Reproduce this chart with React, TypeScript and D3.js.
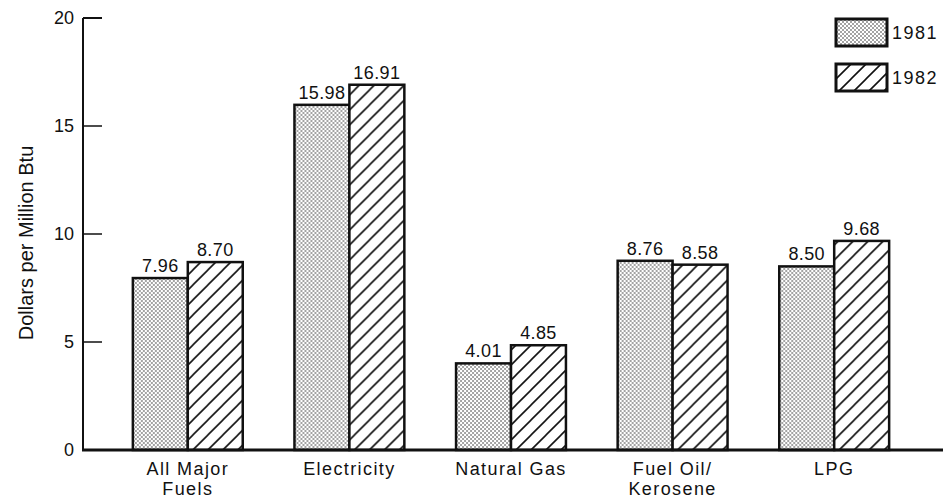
import React, { useRef, useEffect } from 'react';
import * as d3 from 'd3';

const categories = ['All Major Fuels', 'Electricity', 'Natural Gas', 'Fuel Oil/ Kerosene', 'LPG'];
const categoryLines = [['All Major', 'Fuels'], ['Electricity'], ['Natural Gas'], ['Fuel Oil/', 'Kerosene'], ['LPG']];
const series = ['1981', '1982'];
const values1981 = [7.96, 15.98, 4.01, 8.76, 8.5];
const values1982 = [8.7, 16.91, 4.85, 8.58, 9.68];
const yTicks = [0, 5, 10, 15, 20];

const width = 950;
const height = 501;
const font = '"Liberation Sans", Arial, Helvetica, sans-serif';

const App: React.FC = () => {
  const svgRef = useRef<SVGSVGElement | null>(null);

  useEffect(() => {
    const svg = d3.select(svgRef.current);
    svg.selectAll('*').remove();

    const defs = svg.append('defs');
    // dotted screen for 1981
    const dots = defs.append('pattern')
      .attr('id', 'dots')
      .attr('patternUnits', 'userSpaceOnUse')
      .attr('width', 4)
      .attr('height', 4);
    dots.append('rect').attr('width', 4).attr('height', 4).attr('fill', '#fff');
    dots.append('circle').attr('cx', 1).attr('cy', 1).attr('r', 0.75).attr('fill', '#1a1a1a');
    dots.append('circle').attr('cx', 3).attr('cy', 3).attr('r', 0.75).attr('fill', '#1a1a1a');

    // diagonal hatching for 1982
    const hatch = defs.append('pattern')
      .attr('id', 'hatch')
      .attr('patternUnits', 'userSpaceOnUse')
      .attr('width', 15)
      .attr('height', 15);
    hatch.append('rect').attr('width', 15).attr('height', 15).attr('fill', '#fff');
    hatch.append('path')
      .attr('d', 'M-4,4 L4,-4 M0,15 L15,0 M11,19 L19,11')
      .attr('stroke', '#111')
      .attr('stroke-width', 1.6);

    const fills = ['url(#dots)', 'url(#hatch)'];

    const x0 = d3.scaleBand<string>()
      .domain(categories)
      .range([107, 915])
      .paddingInner(0.32)
      .paddingOuter(0.16);

    const x1 = d3.scaleBand<string>()
      .domain(series)
      .range([0, x0.bandwidth()]);

    const y = d3.scaleLinear().domain([0, 20]).range([450, 18]);

    const axisX = 83;

    // y axis
    const ax = svg.append('g');
    ax.append('line')
      .attr('x1', axisX).attr('x2', axisX)
      .attr('y1', y(20)).attr('y2', y(0))
      .attr('stroke', '#111').attr('stroke-width', 2);
    ax.selectAll('line.tick')
      .data(yTicks.filter(d => d > 0))
      .enter()
      .append('line')
      .attr('class', 'tick')
      .attr('x1', axisX).attr('x2', 102)
      .attr('y1', d => y(d)).attr('y2', d => y(d))
      .attr('stroke', '#111')
      .attr('stroke-width', d => (d === 20 ? 2 : 1.5));
    ax.selectAll('text')
      .data(yTicks)
      .enter()
      .append('text')
      .attr('x', 74)
      .attr('y', d => y(d))
      .attr('dy', '0.36em')
      .attr('text-anchor', 'end')
      .style('font-family', font)
      .style('font-size', '18px')
      .attr('fill', '#111')
      .text(d => d);

    svg.append('text')
      .attr('transform', `translate(33,243) rotate(-90)`)
      .attr('text-anchor', 'middle')
      .style('font-family', font)
      .style('font-size', '20px')
      .attr('fill', '#111')
      .text('Dollars per Million Btu');

    // bars
    const data = categories.map((c, i) => ({ cat: c, vals: [values1981[i], values1982[i]] }));
    const groups = svg.selectAll('g.group')
      .data(data)
      .enter()
      .append('g')
      .attr('class', 'group')
      .attr('transform', d => `translate(${x0(d.cat)},0)`);

    groups.selectAll('rect')
      .data(d => d.vals.map((v, j) => ({ key: series[j], v, j })))
      .enter()
      .append('rect')
      .attr('x', d => x1(d.key)!)
      .attr('y', d => y(d.v))
      .attr('width', x1.bandwidth())
      .attr('height', d => y(0) - y(d.v))
      .attr('fill', d => fills[d.j])
      .attr('stroke', '#111')
      .attr('stroke-width', 2.5);

    groups.selectAll('text.val')
      .data(d => d.vals.map((v, j) => ({ key: series[j], v })))
      .enter()
      .append('text')
      .attr('class', 'val')
      .attr('x', d => x1(d.key)! + x1.bandwidth() / 2)
      .attr('y', d => y(d.v) - 6)
      .attr('text-anchor', 'middle')
      .style('font-family', font)
      .style('font-size', '18px')
      .style('letter-spacing', '0.4px')
      .attr('fill', '#111')
      .text(d => d.v.toFixed(2));

    // baseline
    svg.append('line')
      .attr('x1', axisX - 1).attr('x2', 943)
      .attr('y1', y(0)).attr('y2', y(0))
      .attr('stroke', '#111').attr('stroke-width', 3);

    // category labels
    categories.forEach((c, i) => {
      const cx = x0(c)! + x0.bandwidth() / 2;
      const t = svg.append('text')
        .attr('x', cx)
        .attr('y', 475)
        .attr('text-anchor', 'middle')
        .style('font-family', font)
        .style('font-size', '18px')
        .style('letter-spacing', '1.4px')
        .attr('fill', '#111');
      categoryLines[i].forEach((line, k) => {
        t.append('tspan')
          .attr('x', cx)
          .attr('dy', k === 0 ? 0 : 20)
          .text(line);
      });
    });

    // legend
    const legend = svg.append('g').attr('transform', 'translate(836,19)');
    series.forEach((s, i) => {
      legend.append('rect')
        .attr('x', 0)
        .attr('y', i * 45)
        .attr('width', 51)
        .attr('height', 27)
        .attr('fill', fills[i])
        .attr('stroke', '#111')
        .attr('stroke-width', 3);
      legend.append('text')
        .attr('x', 56)
        .attr('y', i * 45 + 14)
        .attr('dy', '0.36em')
        .style('font-family', font)
        .style('font-size', '18px')
        .style('letter-spacing', '1.5px')
        .attr('fill', '#111')
        .text(s);
    });
  }, []);

  return (
    <svg
      ref={svgRef}
      width={width}
      height={height}
      style={{ position: 'absolute', left: 0, top: 0, background: '#fff' }}
    />
  );
};

export default App;
